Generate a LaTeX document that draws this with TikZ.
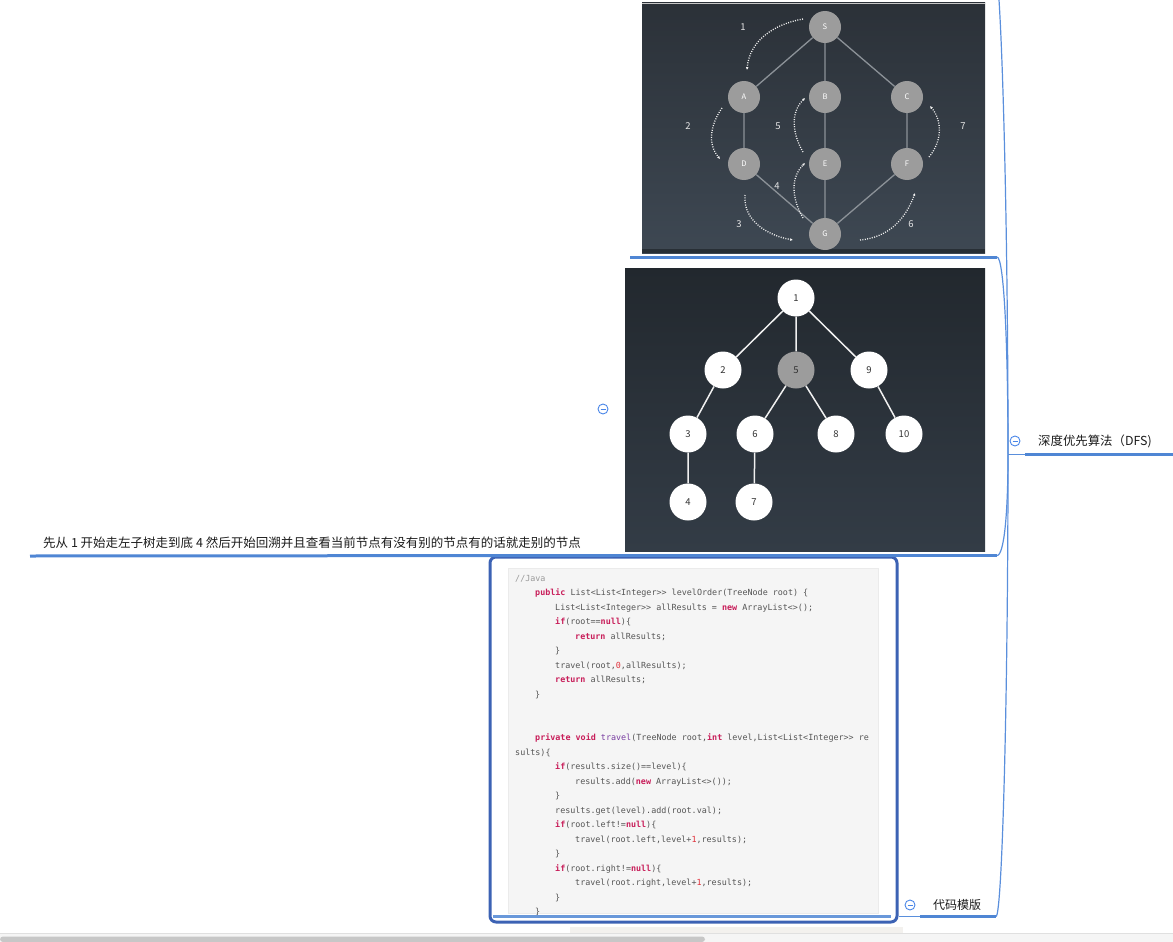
\documentclass[tikz,border=0pt]{standalone}
\usepackage{fontspec}
\setmainfont{Noto Sans CJK SC}
\newfontfamily\codefont{DejaVu Sans Mono}
\usetikzlibrary{arrows.meta}
\definecolor{ulblue}{RGB}{79,134,212}
\definecolor{lnblue}{RGB}{90,143,220}
\definecolor{selblue}{RGB}{60,98,180}
\definecolor{foldblue}{RGB}{74,134,232}
\definecolor{gtop}{RGB}{43,49,56}
\definecolor{gbot}{RGB}{62,72,83}
\definecolor{ttop}{RGB}{34,40,46}
\definecolor{tbot}{RGB}{51,60,70}
\definecolor{gnodefill}{RGB}{156,156,156}
\definecolor{gedgecol}{RGB}{140,146,152}
\definecolor{codebg}{RGB}{245,245,245}
\definecolor{codetxt}{RGB}{85,85,85}
\definecolor{kwred}{RGB}{200,30,90}
\definecolor{fnpurple}{RGB}{120,60,160}
\definecolor{numred}{RGB}{225,50,60}
\definecolor{cmtgray}{RGB}{153,153,153}
\definecolor{txtdark}{RGB}{26,26,26}
\definecolor{panelbg}{RGB}{243,241,238}
\newcommand\kw[1]{\textcolor{kwred}{\bfseries #1}}
\newcommand\fnm[1]{\textcolor{fnpurple}{#1}}
\newcommand\nmb[1]{\textcolor{numred}{#1}}
\newcommand\cmt[1]{\textcolor{cmtgray}{#1}}
\newcommand\tb[1]{\hspace*{\numexpr#1*20\relax pt}}

\begin{document}
\begin{tikzpicture}[
  x=1pt, y=1pt,
  >=Stealth,
  every node/.style={inner sep=0pt},
  panel/.style ={rectangle, inner sep=0pt},
  gnode/.style ={circle, fill=gnodefill, minimum size=32pt,
                 font=\fontsize{7.6}{8}\selectfont, text=white},
  gedge/.style ={draw=gedgecol, line width=1.3pt},
  walk/.style  ={white!90!gray, line width=1.3pt, dash pattern=on 1pt off 1.4pt,
                 -{Latex[length=2.8pt,width=2.8pt]}},
  walknum/.style={text=white!80!gray, font=\fontsize{9.5}{10}\selectfont},
  tnode/.style ={circle, fill=white, minimum size=37pt,
                 font=\fontsize{9.5}{10}\selectfont, text=black!80},
  tedge/.style ={draw=white!88!gray, line width=1.5pt},
  topic/.style ={font=\fontsize{12}{14}\selectfont, text=txtdark, anchor=west},
  uline/.style ={draw=ulblue, line width=3pt},
  conn/.style  ={draw=lnblue, line width=1.2pt},
  fold/.style  ={circle, draw=foldblue, fill=white, line width=0.9pt, minimum size=10pt,
                 path picture={\draw[foldblue, line width=0.9pt]
                   ([xshift=-2.5pt]path picture bounding box.center) --
                   ([xshift=2.5pt]path picture bounding box.center);}},
]
\useasboundingbox (0,0) rectangle (1173,-942);
\clip (0,0) rectangle (1173,-942);

%% ── Graph picture (top) ─────────────────────────────────────────────
\node[panel, top color=gtop, bottom color=gbot,
      minimum width=343pt, minimum height=250pt] (graph) at (813.5,-128) {};
\fill[black!35!gbot] ([yshift=4pt]graph.south west) rectangle (graph.south east);
\draw[gray!45] (graph.north west) -- (graph.north east);

\node[gnode] (S) at (825,-27)  {S};
\node[gnode] (A) at (744,-97)  {A};
\node[gnode] (B) at (825,-97)  {B};
\node[gnode] (C) at (907,-97)  {C};
\node[gnode] (D) at (744,-164) {D};
\node[gnode] (E) at (825,-164) {E};
\node[gnode] (F) at (907,-164) {F};
\node[gnode] (G) at (825,-234) {G};

\draw[gedge] (S) -- (A) (S) -- (B) (S) -- (C)
             (A) -- (D) (B) -- (E) (C) -- (F)
             (D) -- (G) (E) -- (G) (F) -- (G);

%% visiting order
\draw[walk] ([shift={(-22,8)}]S.center)   to[out=190,in=85]  ([shift={(3,27)}]A.center);
\draw[walk] ([shift={(-22,-11)}]A.center) to[out=235,in=130] ([shift={(-24,5)}]D.center);
\draw[walk] ([shift={(1,-31)}]D.center)   to[out=265,in=170] ([shift={(-32,-6)}]G.center);
\draw[walk] ([shift={(-22,16)}]G.center)  to[out=120,in=225] ([shift={(-20,1)}]E.center);
\draw[walk] ([shift={(-22,12)}]E.center)  to[out=120,in=225] ([shift={(-20,-1)}]B.center);
\draw[walk] ([shift={(35,-6)}]G.center)   to[out=5,in=250]   ([shift={(8,-29)}]F.center);
\draw[walk] ([shift={(22,7)}]F.center)    to[out=50,in=310]  ([shift={(23,-9)}]C.center);

\node[walknum] (w1) at (743,-27)  {1};
\node[walknum] (w2) at (688,-126) {2};
\node[walknum] (w3) at (739,-224) {3};
\node[walknum] (w4) at (777,-186) {4};
\node[walknum] (w5) at (778,-126) {5};
\node[walknum] (w6) at (911,-224) {6};
\node[walknum] (w7) at (963,-126) {7};

%% ── Tree picture (middle) ───────────────────────────────────────────
\node[panel, top color=ttop, bottom color=tbot,
      minimum width=360pt, minimum height=283pt] (tree) at (805,-409.5) {};

\node[tnode] (t1)  at (796,-298) {1};
\node[tnode] (t2)  at (723,-370) {2};
\node[tnode, fill=gnodefill] (t5) at (796,-370) {5};
\node[tnode] (t9)  at (869,-370) {9};
\node[tnode] (t3)  at (688,-434) {3};
\node[tnode] (t6)  at (755,-434) {6};
\node[tnode] (t8)  at (836,-434) {8};
\node[tnode] (t10) at (904,-434) {10};
\node[tnode] (t4)  at (688,-502) {4};
\node[tnode] (t7)  at (754,-502) {7};

\draw[tedge] (t1) -- (t2) (t1) -- (t5) (t1) -- (t9)
             (t2) -- (t3) (t5) -- (t6) (t5) -- (t8) (t9) -- (t10)
             (t3) -- (t4) (t6) -- (t7);

%% ── Code template (bottom) ──────────────────────────────────────────
\node[panel, fill=codebg, draw=black!8,
      minimum width=370pt, minimum height=345pt] (code) at (693,-740.5) {};
\node[anchor=north west, align=left, text=codetxt,
      font=\codefont\fontsize{8.4}{14.5}\selectfont] (codetxt) at (515,-575) {%
\cmt{//Java}\\
\tb{1}\kw{public} List<List<Integer>> levelOrder(TreeNode root) \{\\
\tb{2}List<List<Integer>> allResults = \kw{new} ArrayList<>();\\
\tb{2}\kw{if}(root==\kw{null})\{\\
\tb{3}\kw{return} allResults;\\
\tb{2}\}\\
\tb{2}travel(root,\nmb{0},allResults);\\
\tb{2}\kw{return} allResults;\\
\tb{1}\}\\
\mbox{}\\
\mbox{}\\
\tb{1}\kw{private} \kw{void} \fnm{travel}(TreeNode root,\kw{int} level,List<List<Integer>> re\\
sults)\{\\
\tb{2}\kw{if}(results.size()==level)\{\\
\tb{3}results.add(\kw{new} ArrayList<>());\\
\tb{2}\}\\
\tb{2}results.get(level).add(root.val);\\
\tb{2}\kw{if}(root.left!=\kw{null})\{\\
\tb{3}travel(root.left,level+\nmb{1},results);\\
\tb{2}\}\\
\tb{2}\kw{if}(root.right!=\kw{null})\{\\
\tb{3}travel(root.right,level+\nmb{1},results);\\
\tb{2}\}\\
\tb{1}\}};
\node[panel, draw=selblue, line width=3pt, rounded corners=6pt,
      minimum width=407pt, minimum height=365pt] (codesel) at (693.5,-739.5) {};

%% ── Topics and underlines ───────────────────────────────────────────
\node[topic, font=\fontsize{12.5}{14}\selectfont] (walktxt) at (43,-543)
  {先从 1 开始走左子树走到底 4 然后开始回溯并且查看当前节点有没有别的节点有的话就走别的节点};
\node[topic] (tpl) at (933,-905) {代码模版};
\node[topic, font=\fontsize{12.4}{14}\selectfont] (dfs) at (1038,-441) {深度优先算法（DFS)};

\draw[uline] (630,-257) -- (997,-257) coordinate (graph-end);
\draw[uline] (613,-555.5) coordinate (tree-start) -- (997,-555.5) coordinate (tree-end);
\draw[uline] (30,-556) -- (tree-start);
\draw[uline, draw=ulblue!85] (493,-916.5) -- (891,-916.5) coordinate (code-end);
\draw[uline] (920,-916.5) coordinate (tpl-start) -- (996,-916.5) coordinate (tpl-end);
\draw[uline] (1025,-454.5) coordinate (dfs-start) -- (1173,-454.5);

%% ── Branch lines to the root ────────────────────────────────────────
\coordinate (hub) at (1008,-454.5);
\coordinate (prev-end) at (994,40);
\draw[conn] (hub) -- (dfs-start);
\draw[conn] (prev-end)  .. controls +(7,0) and +(0,250)  .. (hub);
\draw[conn] (graph-end) .. controls +(7,0) and +(0,110)  .. (hub);
\draw[conn] (tree-end)  .. controls +(7,0) and +(0,-60)  .. (hub);
\draw[conn] (tpl-end)   .. controls +(6,0) and +(0,-250) .. (hub);
\draw[conn] (codesel.east |- code-end) -- (tpl-start);

\node[fold] (fold-dfs)  at (1015,-441) {};
\node[fold] (fold-tree) at (603,-409)  {};
\node[fold] (fold-tpl)  at (910,-905)  {};

%% ── Window bottom ───────────────────────────────────────────────────
\fill[panelbg] (570,-927) rectangle (903,-933);
\fill[black!4] (0,-933) rectangle (1173,-942);
\draw[black!12] (0,-933) -- (1173,-933);
\fill[black!22, rounded corners=3pt] (0,-936.5) rectangle (705,-942);

\end{tikzpicture}
\end{document}
